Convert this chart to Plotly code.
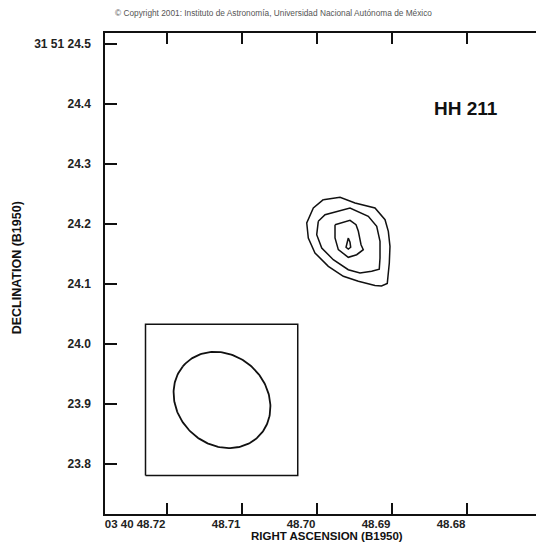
import numpy as np
import plotly.graph_objects as go

# Map axes: RA seconds (03 40 xx.xx) and Dec arcsec (31 51 xx.x), B1950
ra_ticks = [48.72, 48.71, 48.70, 48.69, 48.68]
ra_ticktext = ["03 40 48.72", "48.71", "48.70", "48.69", "48.68"]
dec_ticks = [24.5, 24.4, 24.3, 24.2, 24.1, 24.0, 23.9, 23.8]
dec_ticktext = ["31 51 24.5", "24.4", "24.3", "24.2", "24.1", "24.0", "23.9", "23.8"]

ra_range = [48.72827, 48.67080]
dec_range = [23.7167, 24.5183]

# Contour levels of the HH 211 source (RA s, Dec arcsec)
c1_ra = [48.69916, 48.69693, 48.69493, 48.69227, 48.69093, 48.69049, 48.69027,
         48.69036, 48.69063, 48.69140, 48.69227, 48.69449, 48.69649, 48.69849,
         48.70027, 48.70116, 48.70137, 48.70049]
c1_dec = [24.2405, 24.2445, 24.2350, 24.2267, 24.2072, 24.1878, 24.1628,
          24.1350, 24.1010, 24.0968, 24.0975, 24.1045, 24.1128, 24.1295,
          24.1517, 24.1767, 24.2017, 24.2267]

c2_ra = [48.69983, 48.69893, 48.69560, 48.69316, 48.69204, 48.69160, 48.69160,
         48.69170, 48.69271, 48.69427, 48.69583, 48.69783, 48.69937, 48.70004]
c2_dec = [24.2045, 24.2155, 24.2267, 24.2128, 24.1962, 24.1712, 24.1433,
          24.1248, 24.1212, 24.1183, 24.1238, 24.1405, 24.1600, 24.1822]

c3_ra = [48.69760, 48.69560, 48.69480, 48.69449, 48.69413, 48.69383, 48.69471,
         48.69583, 48.69716, 48.69760]
c3_dec = [24.1988, 24.2062, 24.1988, 24.1878, 24.1655, 24.1572, 24.1488,
          24.1445, 24.1572, 24.1767]

c4_ra = [48.69583, 48.69604, 48.69613, 48.69583, 48.69551, 48.69560]
c4_dec = [24.1767, 24.1683, 24.1612, 24.1583, 24.1612, 24.1695]

# Synthesized beam (semi-axes in arcsec, PA in degrees E of N)
beam_ra0 = 48.71267
beam_dec0 = 23.9067
beam_major = 0.0870
beam_minor = 0.0750
beam_pa = 50.0
beam_box_ra = [48.72287, 48.70257]
beam_box_dec = [23.7808, 24.0328]

LINE = "#111111"
FONT = "Liberation Sans, Arial, Helvetica, sans-serif"

fig = go.Figure()

for ra, dec in [(c1_ra, c1_dec), (c2_ra, c2_dec), (c3_ra, c3_dec), (c4_ra, c4_dec)]:
    fig.add_trace(go.Scatter(
        x=ra + ra[:1], y=dec + dec[:1], mode="lines",
        line=dict(color=LINE, width=1.5), hoverinfo="skip", showlegend=False))

# Beam ellipse: offsets in arcsec, converted to RA seconds with cos(dec)
cosd = np.cos(np.deg2rad(31 + 51 / 60 + 24 / 3600))
t = np.linspace(0, 2 * np.pi, 200)
pa = np.deg2rad(beam_pa)
u = beam_major * np.cos(t)
v = beam_minor * np.sin(t)
d_north = u * np.cos(pa) - v * np.sin(pa)
d_east = u * np.sin(pa) + v * np.cos(pa)
fig.add_trace(go.Scatter(
    x=beam_ra0 + d_east / (15 * cosd), y=beam_dec0 + d_north, mode="lines",
    line=dict(color=LINE, width=1.8), hoverinfo="skip", showlegend=False))

# Beam box
bx = [beam_box_ra[0], beam_box_ra[1], beam_box_ra[1], beam_box_ra[0], beam_box_ra[0]]
by = [beam_box_dec[0], beam_box_dec[0], beam_box_dec[1], beam_box_dec[1], beam_box_dec[0]]
fig.add_trace(go.Scatter(x=bx, y=by, mode="lines",
                         line=dict(color=LINE, width=1.5),
                         hoverinfo="skip", showlegend=False))

ytick_font = dict(family=FONT, size=12, color="#222222", weight="bold")
xtick_font = dict(family=FONT, size=11.5, color="#222222", weight="bold")

fig.update_layout(
    width=536, height=542,
    margin=dict(l=105, r=0, t=33, b=28),
    paper_bgcolor="white", plot_bgcolor="white",
    xaxis=dict(
        range=ra_range, tickvals=ra_ticks, ticktext=ra_ticktext,
        ticks="inside", ticklen=11, tickwidth=1.5, tickcolor=LINE,
        showline=True, linewidth=1.5, linecolor=LINE, mirror="ticks",
        showgrid=False, zeroline=False, tickfont=xtick_font,
        ticklabelposition="outside left", ticklabelstandoff=-2,
    ),
    yaxis=dict(
        range=dec_range, tickvals=dec_ticks, ticktext=dec_ticktext,
        ticks="inside", ticklen=12, tickwidth=1.5, tickcolor=LINE,
        showline=True, linewidth=1.5, linecolor=LINE, mirror=False,
        showgrid=False, zeroline=False, tickfont=ytick_font,
        ticklabelstandoff=10,
    ),
    yaxis2=dict(
        range=dec_range, tickvals=dec_ticks, overlaying="y", side="right",
        ticks="inside", ticklen=7, tickwidth=1.5, tickcolor=LINE,
        showline=False, showgrid=False, zeroline=False, showticklabels=False,
    ),
    annotations=[
        dict(text="HH 211", x=48.68013, y=24.3933, xref="x", yref="y",
             showarrow=False, xanchor="center", yanchor="middle",
             font=dict(family=FONT, size=19, color="#111111", weight="bold")),
        dict(text="© Copyright 2001: Instituto de Astronomía, Universidad Nacional Autónoma de México",
             x=0.39, y=1.0416, xref="paper", yref="paper", showarrow=False,
             xanchor="center", yanchor="middle",
             font=dict(family=FONT, size=8.3, color="#555555")),
        dict(text="RIGHT ASCENSION (B1950)", x=0.515, y=-0.0465,
             xref="paper", yref="paper", showarrow=False,
             xanchor="center", yanchor="middle",
             font=dict(family=FONT, size=11.5, color="#111111", weight="bold")),
        dict(text="DECLINATION (B1950)", x=-0.204, y=0.511, textangle=-90,
             xref="paper", yref="paper", showarrow=False,
             xanchor="center", yanchor="middle",
             font=dict(family=FONT, size=12.5, color="#111111", weight="bold")),
    ],
)

fig.write_html("out.html")
